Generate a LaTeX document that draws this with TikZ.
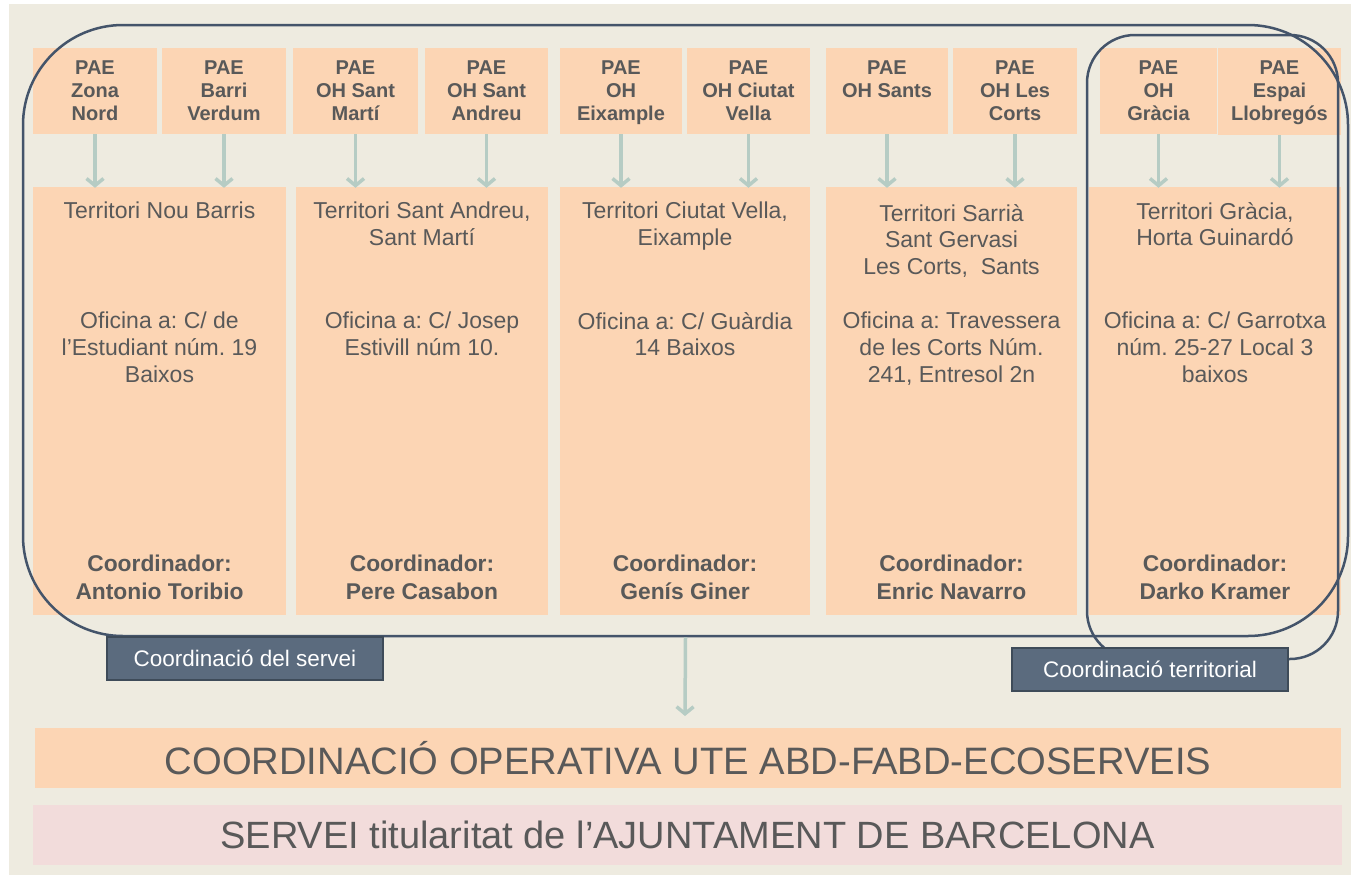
\documentclass[tikz,border=0pt]{standalone}
\usepackage{fontspec}
\setmainfont{Liberation Sans}
\usetikzlibrary{arrows.meta}
\frenchspacing
\definecolor{bg}{HTML}{EEEBE0}
\definecolor{peach}{HTML}{FCD5B4}
\definecolor{pinkbox}{HTML}{F2DCDB}
\definecolor{txt}{HTML}{595959}
\definecolor{slate}{HTML}{44546A}
\definecolor{labfill}{HTML}{5B6B7E}
\definecolor{labdraw}{HTML}{3E4B59}
\definecolor{arrowc}{HTML}{B6CCC4}
\tikzset{
  fillbox/.style={fill=peach, draw=none, inner sep=0pt},
  paetext/.style={text=txt, align=center, anchor=north, inner sep=0pt,
    font=\fontsize{20}{23}\selectfont\bfseries},
  bigtext/.style={text=txt, align=center, anchor=north, inner sep=0pt,
    font=\fontsize{23}{26.7}\selectfont},
  coordtext/.style={text=txt, align=center, anchor=north, inner sep=0pt,
    font=\fontsize{22.8}{28}\selectfont\bfseries},
  outline/.style={draw=slate, line width=2.5pt, fill=none, inner sep=0pt},
  labelbox/.style={fill=labfill, draw=labdraw, line width=2.5pt, text=white,
    inner sep=0pt, minimum width=276pt, minimum height=43pt,
    font=\fontsize{22.5}{24}\selectfont},
  flowarrow/.style={draw=arrowc, line width=3.5pt,
    -{Straight Barb[length=7pt,width=17pt]}},
}
\newcommand{\paeBox}[5]{% name, x1, x2, y2, text
  \node[fillbox, minimum width={#3pt-#2pt}, minimum height={#4pt-48pt}]
    (#1) at ({(#2+#3)/2},{(48+#4)/2}) {};
  \node[paetext] (#1t) at ({(#2+#3)/2},61) {#5};
}
\newcommand{\bigBox}[3]{% name, x1, x2
  \node[fillbox, minimum width={#3pt-#2pt}, minimum height=428pt]
    (#1) at ({(#2+#3)/2},401) {};
}
\begin{document}
\begin{tikzpicture}[x=1pt,y=-1pt]
\useasboundingbox (0,0) rectangle (1351,878);
\fill[white] (0,0) rectangle (1351,878);
\fill[bg] (9,4) rectangle (1351,875);

% PAE boxes
\paeBox{p1}{33}{157}{134}{PAE\\Zona\\Nord}
\paeBox{p2}{162}{286}{134}{PAE\\Barri\\Verdum}
\paeBox{p3}{293}{418}{134}{PAE\\OH Sant\\Martí}
\paeBox{p4}{425}{548}{134}{PAE\\OH Sant\\Andreu}
\paeBox{p5}{560}{682}{134}{PAE\\OH\\Eixample}
\paeBox{p6}{687}{810}{134}{PAE\\OH Ciutat\\Vella}
\paeBox{p7}{826}{948}{134}{PAE\\OH Sants}
\paeBox{p8}{953}{1077}{134}{PAE\\OH Les\\Corts}
\paeBox{p9}{1100}{1217}{134}{PAE\\OH\\Gràcia}
\paeBox{p10}{1218}{1341}{135}{PAE\\Espai\\Llobregós}

% Big boxes
\bigBox{b1}{33}{286}
\bigBox{b2}{296}{548}
\bigBox{b3}{560}{810}
\bigBox{b4}{826}{1077}
\bigBox{b5}{1089}{1341}

% Big box texts
\node[bigtext] (b1a) at (b1.north |- 0,202) {Territori Nou Barris};
\node[bigtext] (b1b) at (b1.north |- 0,312) {Oficina a: C/ de\\l’Estudiant núm. 19\\Baixos};
\node[coordtext] (b1c) at (b1.north |- 0,555) {Coordinador:\\Antonio Toribio};

\node[bigtext] (b2a) at (b2.north |- 0,202) {Territori Sant Andreu,\\Sant Martí};
\node[bigtext] (b2b) at (b2.north |- 0,312) {Oficina a: C/ Josep\\Estivill núm 10.};
\node[coordtext] (b2c) at (b2.north |- 0,555) {Coordinador:\\Pere Casabon};

\node[bigtext] (b3a) at (b3.north |- 0,202) {Territori Ciutat Vella,\\Eixample};
\node[bigtext] (b3b) at (b3.north |- 0,312) {Oficina a: C/ Guàrdia\\14 Baixos};
\node[coordtext] (b3c) at (b3.north |- 0,555) {Coordinador:\\Genís Giner};

\node[bigtext] (b4a) at (b4.north |- 0,204) {Territori Sarrià\\Sant Gervasi\\Les Corts,~ Sants};
\node[bigtext] (b4b) at (b4.north |- 0,312) {Oficina a: Travessera\\de les Corts Núm.\\241, Entresol 2n};
\node[coordtext] (b4c) at (b4.north |- 0,555) {Coordinador:\\Enric Navarro};

\node[bigtext] (b5a) at (b5.north |- 0,202) {Territori Gràcia,\\Horta Guinardó};
\node[bigtext] (b5b) at (b5.north |- 0,312) {Oficina a: C/ Garrotxa\\núm. 25-27 Local 3\\baixos};
\node[coordtext] (b5c) at (b5.north |- 0,555) {Coordinador:\\Darko Kramer};

% Arrows PAE -> territory
\foreach \p/\b in {p1/b1,p2/b1,p3/b2,p4/b2,p5/b3,p6/b3,p7/b4,p8/b4,p9/b5,p10/b5}
  \draw[flowarrow] (\p.south) -- ([yshift=-1pt]\p.south |- \b.north);

% Bottom bars
\node[fillbox, minimum width=1306pt, minimum height=60pt, text=txt,
  font=\fontsize{38.2}{40}\selectfont] (oper) at (688,758)
  {COORDINACIÓ OPERATIVA UTE ABD-FABD-ECOSERVEIS};
\node[fillbox, fill=pinkbox, minimum width=1309pt, minimum height=60pt, text=txt,
  font=\fontsize{38}{40}\selectfont] (titular) at (687.5,835)
  {SERVEI titularitat de l’AJUNTAMENT DE BARCELONA};

% Outlines
\node[outline, rounded corners=100pt, minimum width=1325pt, minimum height=611pt]
  (servei) at (685.5,330.5) {};
\node[outline, rounded corners=48pt, minimum width=251pt, minimum height=624pt]
  (territ) at (1212.5,347) {};

% Labels
\node[labelbox] (lab1) at (245,658.5) {Coordinació del servei};
\node[labelbox] (lab2) at (1150,669.5) {Coordinació territorial};

% Arrow to operational coordination
\coordinate (opertip) at (685,716);
\draw[flowarrow] (servei.south) -- (opertip);
\end{tikzpicture}
\end{document}
